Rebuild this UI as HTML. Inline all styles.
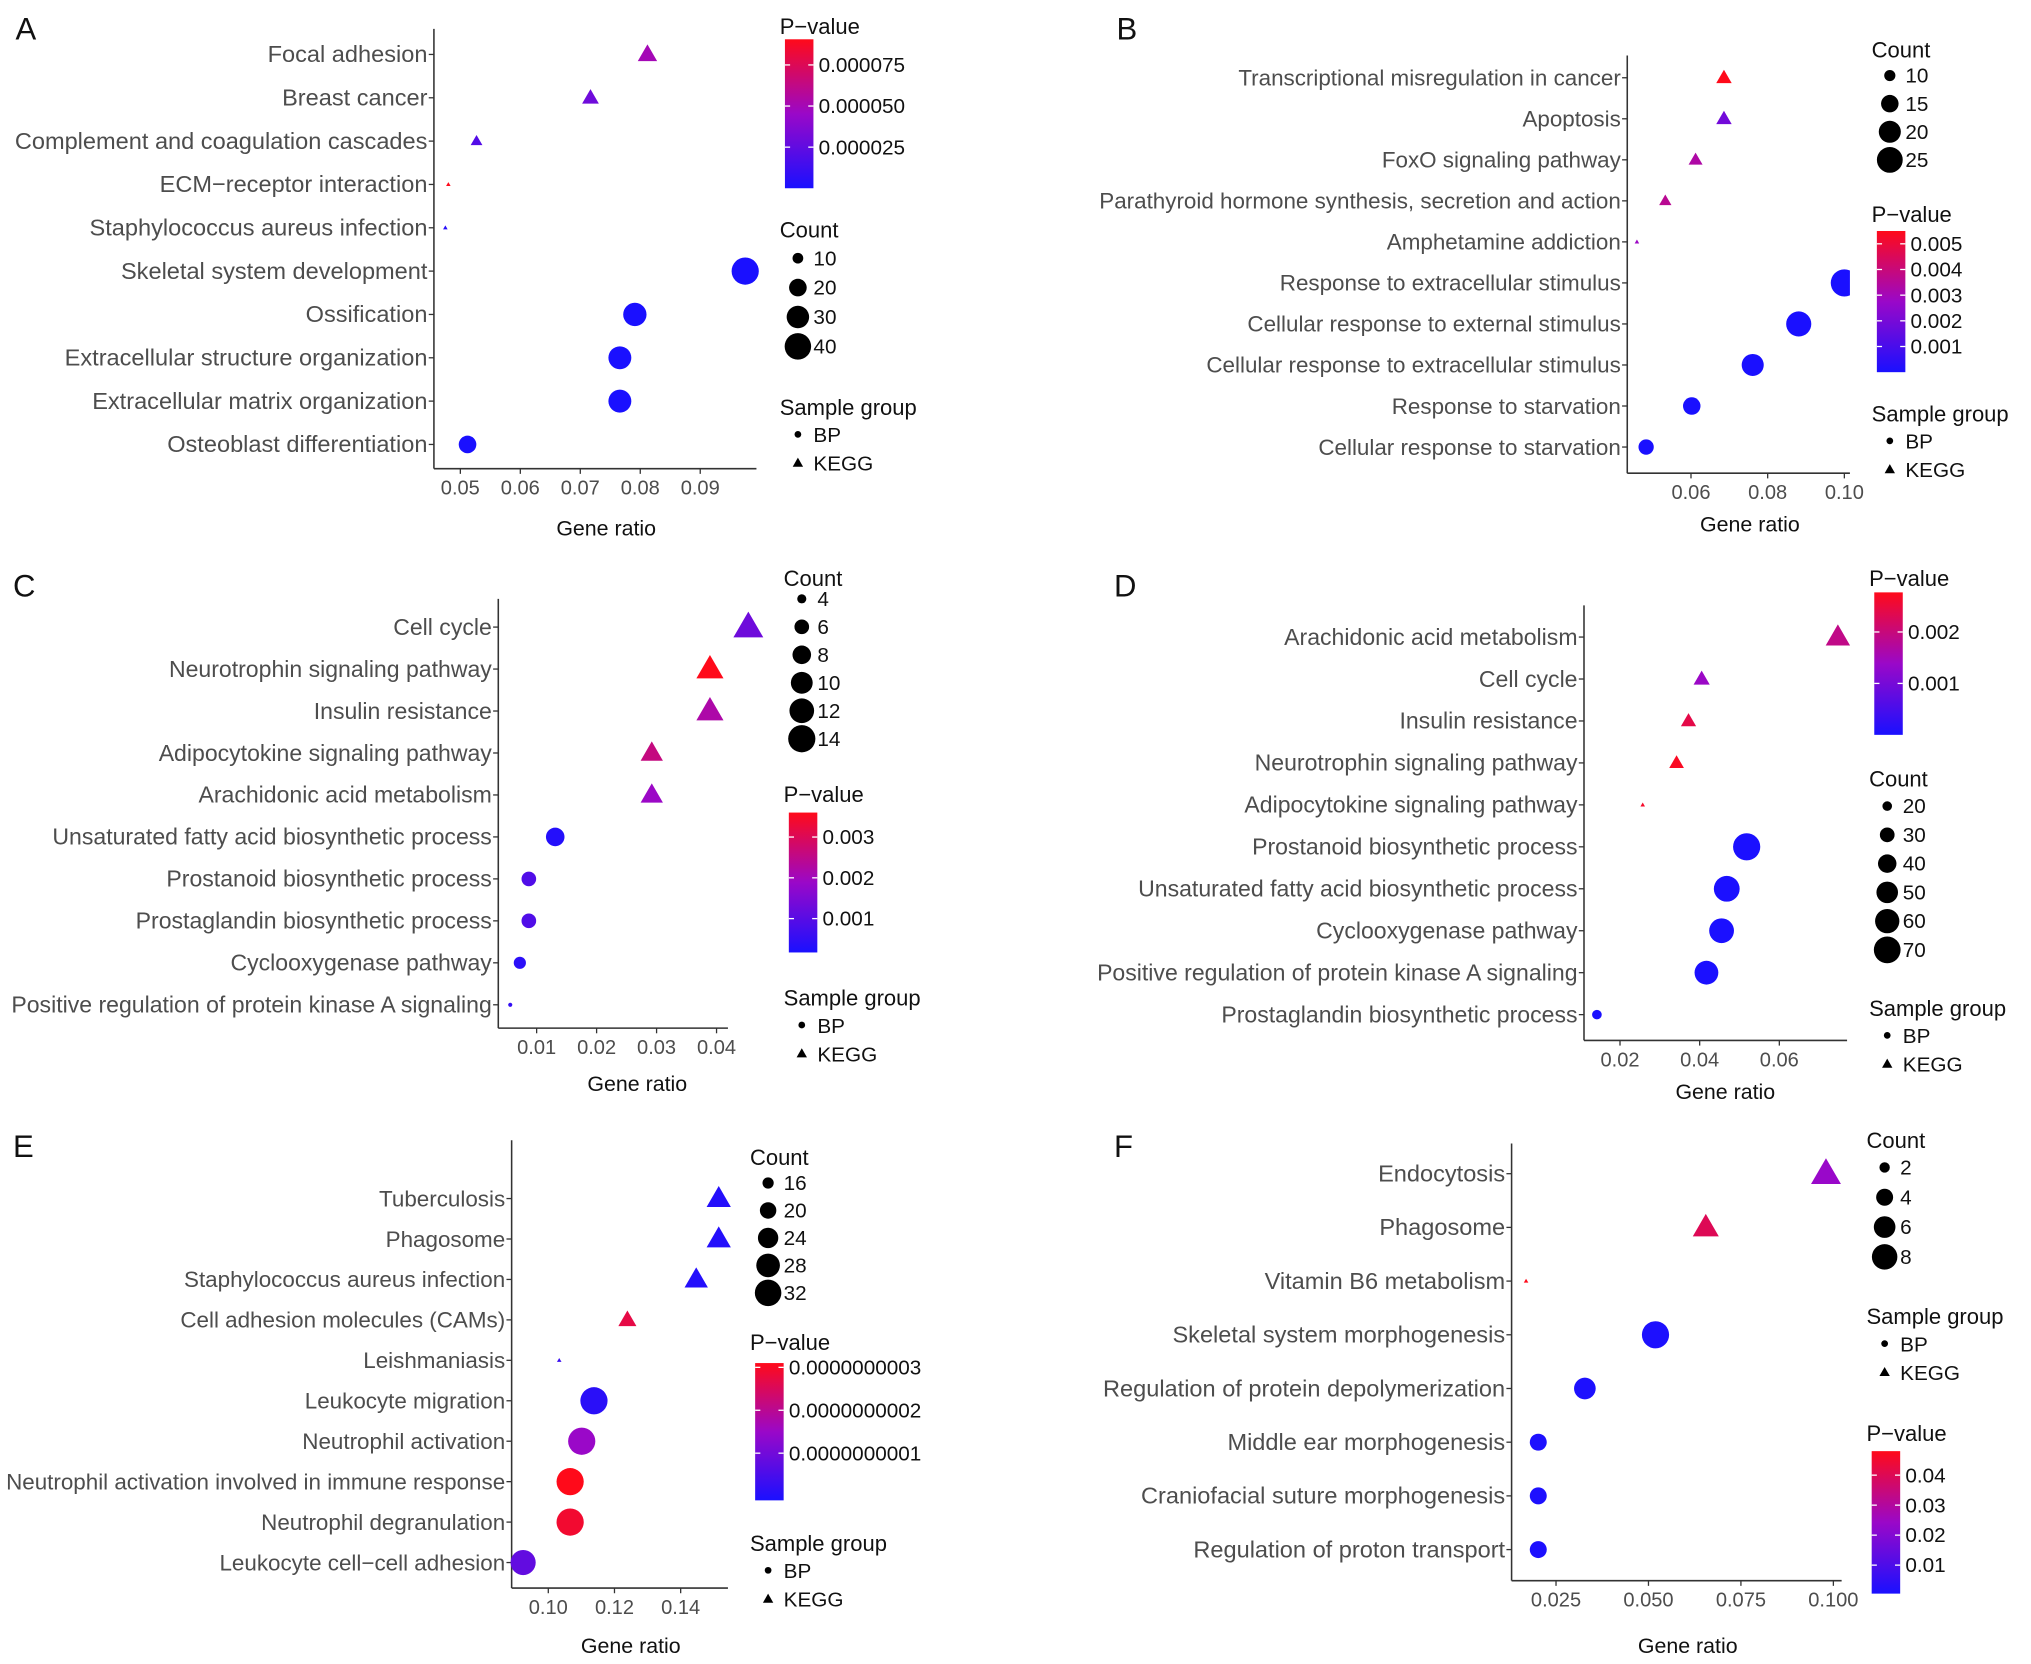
<!DOCTYPE html>
<html><head><meta charset="utf-8"><style>
html,body{margin:0;padding:0;background:#fff}
svg{display:block;font-family:"Liberation Sans",Arial,sans-serif}
</style></head><body>
<svg id="fig" width="2031" height="1664" viewBox="0 0 1568 1284" xmlns="http://www.w3.org/2000/svg">
<defs>
<linearGradient id="pgrad" x1="0" y1="1" x2="0" y2="0">
<stop offset="0" stop-color="#1a10ff"/><stop offset="0.5" stop-color="#9a08c8"/><stop offset="1" stop-color="#ff0a1a"/>
</linearGradient>
</defs>
</svg>
<script>
// ---- Panel A ----
const aTerms=["Focal adhesion","Breast cancer","Complement and coagulation cascades","ECM−receptor interaction","Staphylococcus aureus infection","Skeletal system development","Ossification","Extracellular structure organization","Extracellular matrix organization","Osteoblast differentiation"];
const aRatio=[0.0812,0.0717,0.0527,0.048,0.0475,0.0975,0.0791,0.0766,0.0766,0.0512];
const aCount=[20,16,10,5,5,42,32,31,31,20];
const aPval=[0.00005,0.00003,0.00002,0.00009,0.000005,1e-7,1e-7,1e-7,1e-7,1e-7];
const aShape=["KEGG","KEGG","KEGG","KEGG","KEGG","BP","BP","BP","BP","BP"];
const aXTicks=[0.05,0.06,0.07,0.08,0.09];
const aXTickLabels=["0.05","0.06","0.07","0.08","0.09"];
const aPTicks=[0.000075,0.00005,0.000025];
const aPTickLabels=["0.000075","0.000050","0.000025"];
const aCountBreaks=[10,20,30,40];
// ---- Panel B ----
const bTerms=["Transcriptional misregulation in cancer","Apoptosis","FoxO signaling pathway","Parathyroid hormone synthesis, secretion and action","Amphetamine addiction","Response to extracellular stimulus","Cellular response to external stimulus","Cellular response to extracellular stimulus","Response to starvation","Cellular response to starvation"];
const bRatio=[0.0686,0.0686,0.0612,0.0533,0.0459,0.1,0.0881,0.0761,0.0602,0.0483];
const bCount=[12,12,11,10,7,27,24,20,15,13];
const bPval=[0.0055,0.0019,0.0033,0.0036,0.0028,1e-5,1e-5,1e-5,1e-5,1e-5];
const bShape=["KEGG","KEGG","KEGG","KEGG","KEGG","BP","BP","BP","BP","BP"];
const bXTicks=[0.06,0.08,0.10];
const bXTickLabels=["0.06","0.08","0.10"];
const bPTicks=[0.005,0.004,0.003,0.002,0.001];
const bPTickLabels=["0.005","0.004","0.003","0.002","0.001"];
const bCountBreaks=[10,15,20,25];
// ---- Panel C ----
const cTerms=["Cell cycle","Neurotrophin signaling pathway","Insulin resistance","Adipocytokine signaling pathway","Arachidonic acid metabolism","Unsaturated fatty acid biosynthetic process","Prostanoid biosynthetic process","Prostaglandin biosynthetic process","Cyclooxygenase pathway","Positive regulation of protein kinase A signaling"];
const cRatio=[0.0453,0.0389,0.0389,0.0292,0.0292,0.0131,0.0087,0.0087,0.0072,0.0056];
const cCount=[14,12,12,9,9,8,6,6,5,3];
const cPval=[0.0013,0.0036,0.0022,0.0026,0.0019,0.0003,0.0009,0.0009,0.0004,0.0005];
const cShape=["KEGG","KEGG","KEGG","KEGG","KEGG","BP","BP","BP","BP","BP"];
const cXTicks=[0.01,0.02,0.03,0.04];
const cXTickLabels=["0.01","0.02","0.03","0.04"];
const cPTicks=[0.003,0.002,0.001];
const cPTickLabels=["0.003","0.002","0.001"];
const cCountBreaks=[4,6,8,10,12,14];
// ---- Panel D ----
const dTerms=["Arachidonic acid metabolism","Cell cycle","Insulin resistance","Neurotrophin signaling pathway","Adipocytokine signaling pathway","Prostanoid biosynthetic process","Unsaturated fatty acid biosynthetic process","Cyclooxygenase pathway","Positive regulation of protein kinase A signaling","Prostaglandin biosynthetic process"];
const dRatio=[0.0747,0.0405,0.0372,0.0342,0.0257,0.0518,0.0468,0.0455,0.0417,0.0142];
const dCount=[52,30,28,27,14,72,66,62,58,20];
const dPval=[0.0019,0.0014,0.0024,0.0027,0.00265,1e-5,1e-5,1e-5,1e-5,1e-5];
const dShape=["KEGG","KEGG","KEGG","KEGG","KEGG","BP","BP","BP","BP","BP"];
const dXTicks=[0.02,0.04,0.06];
const dXTickLabels=["0.02","0.04","0.06"];
const dPTicks=[0.002,0.001];
const dPTickLabels=["0.002","0.001"];
const dCountBreaks=[20,30,40,50,60,70];
// ---- Panel E ----
const eTerms=["Tuberculosis","Phagosome","Staphylococcus aureus infection","Cell adhesion molecules (CAMs)","Leishmaniasis","Leukocyte migration","Neutrophil activation","Neutrophil activation involved in immune response","Neutrophil degranulation","Leukocyte cell−cell adhesion"];
const eRatio=[0.1515,0.1515,0.1447,0.1239,0.1033,0.1138,0.1101,0.1066,0.1066,0.0924];
const eCount=[26,26,25,20,13,33,33,33,33,30];
const ePval=[0.02e-10,0.02e-10,0.02e-10,2.7e-10,0.3e-10,0.1e-10,1.5e-10,3.1e-10,2.9e-10,0.8e-10];
const eShape=["KEGG","KEGG","KEGG","KEGG","KEGG","BP","BP","BP","BP","BP"];
const eXTicks=[0.10,0.12,0.14];
const eXTickLabels=["0.10","0.12","0.14"];
const ePTicks=[3e-10,2e-10,1e-10];
const ePTickLabels=["0.0000000003","0.0000000002","0.0000000001"];
const eCountBreaks=[16,20,24,28,32];
// ---- Panel F ----
const fTerms=["Endocytosis","Phagosome","Vitamin B6 metabolism","Skeletal system morphogenesis","Regulation of protein depolymerization","Middle ear morphogenesis","Craniofacial suture morphogenesis","Regulation of proton transport"];
const fRatio=[0.098,0.0655,0.0169,0.0519,0.0328,0.0202,0.0202,0.0202];
const fCount=[9,7,1,9,6,4,4,4];
const fPval=[0.024,0.04,0.048,0.001,0.001,0.001,0.001,0.001];
const fShape=["KEGG","KEGG","KEGG","BP","BP","BP","BP","BP"];
const fXTicks=[0.025,0.05,0.075,0.1];
const fXTickLabels=["0.025","0.050","0.075","0.100"];
const fPTicks=[0.04,0.03,0.02,0.01];
const fPTickLabels=["0.04","0.03","0.02","0.01"];
const fCountBreaks=[2,4,6,8];

const NS="http://www.w3.org/2000/svg";
const svg=document.getElementById('fig');
const defs=svg.querySelector('defs');
function mk(tag,attrs,parent,text){const e=document.createElementNS(NS,tag);for(const k in attrs)e.setAttribute(k,attrs[k]);if(text!==undefined)e.textContent=text;(parent||svg).appendChild(e);return e;}
function lerp(a,b,t){return a+(b-a)*t;}
function pcolor(t){t=Math.max(0,Math.min(1,t));const s=[[26,16,255],[154,8,200],[255,10,26]];let c;if(t<0.5){const u=t/0.5;c=s[0].map((v,i)=>lerp(v,s[1][i],u));}else{const u=(t-0.5)/0.5;c=s[1].map((v,i)=>lerp(v,s[2][i],u));}return `rgb(${c.map(Math.round).join(',')})`;}

function drawPanel(P){
  const g=mk('g',{});
  
  
  const lab=mk('text',{x:P.labX,y:P.labY,'font-size':24,fill:'#111'},g,P.id);
  
  
  const xs=v=>P.x0+(v-P.v0)*P.k;
  const rows=P.terms.length;
  const ys=i=>P.rowTop+i*(P.rowBot-P.rowTop)/(rows-1);
  const rad=c=>{const t=(c-P.cmin)/(P.cmax-P.cmin);return Math.sqrt(1.6*1.6+(10.5*10.5-1.6*1.6)*Math.max(0,Math.min(1,t)));};
  const pc=p=>pcolor((p-P.plo)/(P.phi-P.plo));
  const ya=mk('line',{x1:P.ax,y1:P.top,x2:P.ax,y2:P.bot,stroke:'#333','stroke-width':1.2},g);
  
  
  const xa=mk('line',{x1:P.ax,y1:P.bot,x2:P.right,y2:P.bot,stroke:'#333','stroke-width':1.2},g);
  
  
  P.terms.forEach((t,i)=>{
    const y=ys(i);
    mk('line',{x1:P.ax-4,y1:y,x2:P.ax,y2:y,stroke:'#333'},g);
    const tl=mk('text',{x:P.ax-5,y:y+6,'font-size':P.fs,fill:'#4d4d4d','text-anchor':'end'},g,t);
    
    
  });
  P.xticks.forEach((v,i)=>{
    const x=xs(v);
    mk('line',{x1:x,y1:P.bot,x2:x,y2:P.bot+4,stroke:'#333'},g);
    const tl=mk('text',{x:x,y:P.bot+20,'font-size':15.5,fill:'#4d4d4d','text-anchor':'middle'},g,P.xlabels[i]);
    
    
  });
  const xt=mk('text',{x:P.xtX,y:P.xtY,'font-size':16.5,fill:'#111','text-anchor':'middle'},g,'Gene ratio');
  
  
  let pg=g;
  if(P.clip){
    const cp=mk('clipPath',{id:'clip'+P.id},defs);
    mk('rect',{x:P.ax,y:P.top,width:P.right-P.ax,height:P.bot-P.top},cp);
    pg=mk('g',{'clip-path':`url(#clip${P.id})`},g);
  }
  P.terms.forEach((t,i)=>{
    const x=xs(P.ratio[i]),y=ys(i),r=rad(P.count[i]),col=pc(P.pval[i]);
    let m;
    if(P.shape[i]==='BP'){m=mk('circle',{cx:x,cy:y,r:r,fill:col},pg);}
    else{const h=r*1.9,w=r*1.1;m=mk('polygon',{points:`${x},${y-h*0.6} ${x-w},${y+h*0.4} ${x+w},${y+h*0.4}`,fill:col},pg);}
    
    
  });
  const L=P.pl;
  const pt=mk('text',{x:L.x-4,y:L.titleY,'font-size':17,fill:'#111'},g,'P−value');
  
  
  const bar=mk('rect',{x:L.x,y:L.top,width:22,height:L.bot-L.top,fill:'url(#pgrad)'},g);
  
  
  const py=p=>L.bot-(p-P.plo)/(P.phi-P.plo)*(L.bot-L.top);
  P.pticks.forEach((p,i)=>{
    const y=py(p);
    mk('line',{x1:L.x,y1:y,x2:L.x+4,y2:y,stroke:'#fff'},g);
    mk('line',{x1:L.x+18,y1:y,x2:L.x+22,y2:y,stroke:'#fff'},g);
    const tl=mk('text',{x:L.x+26,y:y+5.5,'font-size':16,fill:'#111'},g,P.plabels[i]);
    
    
  });
  const C=P.cl;
  const ct=mk('text',{x:C.x-4,y:C.titleY,'font-size':17,fill:'#111'},g,'Count');
  
  
  P.cbreaks.forEach((c,i)=>{
    const y=C.y0+i*C.dy;
    const e=mk('circle',{cx:C.x+10,cy:y,r:rad(c),fill:'#000'},g);
    
    
    mk('text',{x:C.x+22,y:y+5.5,'font-size':16,fill:'#111'},g,String(c));
  });
  const S=P.sl;
  const st=mk('text',{x:S.x-4,y:S.titleY,'font-size':17,fill:'#111'},g,'Sample group');
  
  
  const b=mk('circle',{cx:S.x+10,cy:S.titleY+15,r:2.6,fill:'#000'},g);
  
  
  mk('text',{x:S.x+22,y:S.titleY+21,'font-size':16,fill:'#111'},g,'BP');
  const yk=S.titleY+37;
  const k2=mk('polygon',{points:`${S.x+10},${yk-4} ${S.x+6},${yk+3} ${S.x+14},${yk+3}`,fill:'#000'},g);
  
  
  mk('text',{x:S.x+22,y:yk+6,'font-size':16,fill:'#111'},g,'KEGG');
}

drawPanel({id:'A',fs:18.2,labX:12,labY:30,terms:aTerms,ratio:aRatio,count:aCount,pval:aPval,shape:aShape,xticks:aXTicks,xlabels:aXTickLabels,pticks:aPTicks,plabels:aPTickLabels,cbreaks:aCountBreaks,
 x0:355.4,v0:0.05,k:4630,ax:335,top:22,bot:361.5,right:584,rowTop:41.7,rowBot:342.8,cmin:5,cmax:42,plo:0,phi:0.0000906,xtX:468,xtY:413,
 pl:{x:606,titleY:26,top:30,bot:145},cl:{x:606,titleY:183,y0:199,dy:22.7},sl:{x:606,titleY:320}});
drawPanel({id:'B',fs:17.3,clip:true,labX:862,labY:30,terms:bTerms,ratio:bRatio,count:bCount,pval:bPval,shape:bShape,xticks:bXTicks,xlabels:bXTickLabels,pticks:bPTicks,plabels:bPTickLabels,cbreaks:bCountBreaks,
 x0:1305.5,v0:0.06,k:2960,ax:1256.3,top:42.5,bot:365,right:1428.2,rowTop:59.7,rowBot:344.8,cmin:7,cmax:27,plo:0,phi:0.0055,xtX:1351,xtY:410,
 pl:{x:1449,titleY:171,top:178,bot:287},cl:{x:1449,titleY:44,y0:58,dy:21.7},sl:{x:1449,titleY:325}});
drawPanel({id:'C',fs:17.8,labX:10,labY:460,terms:cTerms,ratio:cRatio,count:cCount,pval:cPval,shape:cShape,xticks:cXTicks,xlabels:cXTickLabels,pticks:cPTicks,plabels:cPTickLabels,cbreaks:cCountBreaks,
 x0:414.3,v0:0.01,k:4630,ax:384.7,top:462,bot:793.4,right:562,rowTop:483.8,rowBot:775.4,cmin:3,cmax:14,plo:0.00017,phi:0.0036,xtX:492,xtY:842,
 pl:{x:609,titleY:619,top:627,bot:735},cl:{x:609,titleY:452,y0:462,dy:21.6},sl:{x:609,titleY:776}});
drawPanel({id:'D',fs:17.8,labX:860,labY:460,terms:dTerms,ratio:dRatio,count:dCount,pval:dPval,shape:dShape,xticks:dXTicks,xlabels:dXTickLabels,pticks:dPTicks,plabels:dPTickLabels,cbreaks:dCountBreaks,
 x0:1250.7,v0:0.02,k:3075,ax:1222.9,top:467,bot:802.9,right:1426,rowTop:491.5,rowBot:783,cmin:14,cmax:72,plo:0,phi:0.00277,xtX:1332,xtY:848,
 pl:{x:1447,titleY:452,top:457,bot:567},cl:{x:1447,titleY:607,y0:622,dy:22.2},sl:{x:1447,titleY:784}});
drawPanel({id:'E',fs:17.3,labX:10,labY:893,terms:eTerms,ratio:eRatio,count:eCount,pval:ePval,shape:eShape,xticks:eXTicks,xlabels:eXTickLabels,pticks:ePTicks,plabels:ePTickLabels,cbreaks:eCountBreaks,
 x0:423.3,v0:0.10,k:2555,ax:395,top:880,bot:1225.7,right:562,rowTop:925,rowBot:1206,cmin:13,cmax:33,plo:-0.1e-10,phi:3.1e-10,xtX:487,xtY:1276,
 pl:{x:583,titleY:1042,top:1052,bot:1158},cl:{x:583,titleY:899,y0:913,dy:21.2},sl:{x:583,titleY:1197}});
drawPanel({id:'F',fs:18.2,labX:860,labY:893,terms:fTerms,ratio:fRatio,count:fCount,pval:fPval,shape:fShape,xticks:fXTicks,xlabels:fXTickLabels,pticks:fPTicks,plabels:fPTickLabels,cbreaks:fCountBreaks,
 x0:1201.3,v0:0.025,k:2855,ax:1167,top:882.5,bot:1220,right:1421.8,rowTop:905.8,rowBot:1196,cmin:1,cmax:9,plo:0.0005,phi:0.048,xtX:1303,xtY:1276,
 pl:{x:1445,titleY:1112,top:1120,bot:1230},cl:{x:1445,titleY:886,y0:901,dy:23},sl:{x:1445,titleY:1022}});
</script>
</body></html>
